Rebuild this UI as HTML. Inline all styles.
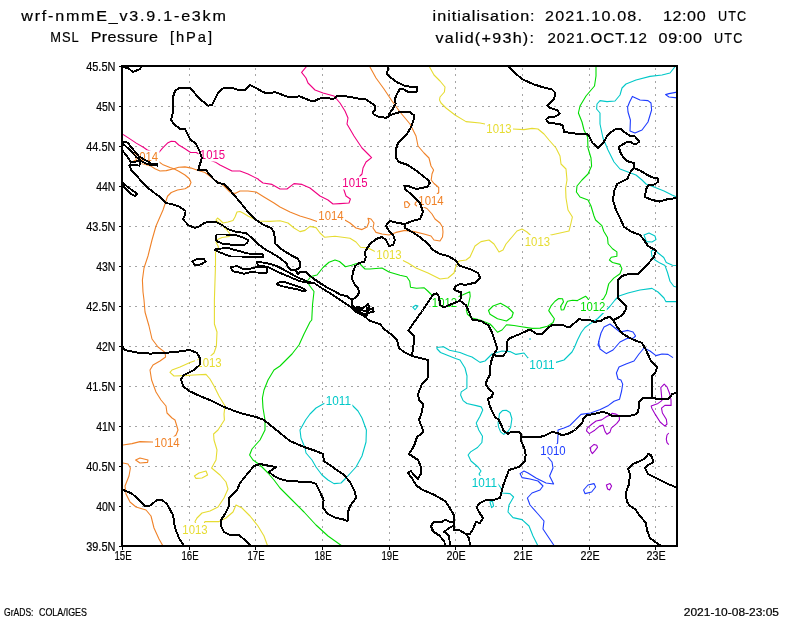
<!DOCTYPE html>
<html><head><meta charset="utf-8"><title>MSL Pressure</title>
<style>
html,body{margin:0;padding:0;background:#fff;}
svg{display:block;font-family:"Liberation Sans",sans-serif;}
</style></head>
<body>
<svg width="800" height="618" viewBox="0 0 800 618">
<defs><clipPath id="cp"><rect x="123" y="66" width="554" height="480"/></clipPath></defs>
<rect x="0" y="0" width="800" height="618" fill="#fff"/>
<g stroke="#a5a5a5" stroke-width="1" stroke-dasharray="2 4.54" shape-rendering="crispEdges"><line x1="189.5" y1="67.7" x2="189.5" y2="545"/><line x1="255.5" y1="67.7" x2="255.5" y2="545"/><line x1="322.5" y1="67.7" x2="322.5" y2="545"/><line x1="389.5" y1="67.7" x2="389.5" y2="545"/><line x1="455.5" y1="67.7" x2="455.5" y2="545"/><line x1="522.5" y1="67.7" x2="522.5" y2="545"/><line x1="589.5" y1="67.7" x2="589.5" y2="545"/><line x1="655.5" y1="67.7" x2="655.5" y2="545"/><line x1="128.5" y1="106.5" x2="676" y2="106.5"/><line x1="128.5" y1="146.5" x2="676" y2="146.5"/><line x1="128.5" y1="186.5" x2="676" y2="186.5"/><line x1="128.5" y1="226.5" x2="676" y2="226.5"/><line x1="128.5" y1="266.5" x2="676" y2="266.5"/><line x1="128.5" y1="306.5" x2="676" y2="306.5"/><line x1="128.5" y1="346.5" x2="676" y2="346.5"/><line x1="128.5" y1="386.5" x2="676" y2="386.5"/><line x1="128.5" y1="426.5" x2="676" y2="426.5"/><line x1="128.5" y1="466.5" x2="676" y2="466.5"/><line x1="128.5" y1="506.5" x2="676" y2="506.5"/></g>
<g fill="none" stroke-width="1.1" stroke-linejoin="round" clip-path="url(#cp)"><path d="M123 134.4 L128.75 138.1 L136.25 143.1 L143.75 147.5 L146.9 149.75 L153 152.5 L158.1 153.5 L162.5 148.1 L167.5 143.1 L171.25 141.25 L175 141.5 L178.75 145 L185 148.75 L190.6 152.5 L196.25 152.5 L209.4 160 L215 161.9 L220 165 L224 167 L232 171 L240 171 L248 174 L258 179 L259 180 L263 183 L272 184.4 L280 189 L287 189 L294 183.6 L302 184.4 L310 188 L320 196 L328 200 L333 204 L340 203.6 L349 203 L350.4 199 L346 196 L344 190 L342.4 187 L355 183 L360 176 L362 174 L363 168 L366 162 L371.6 157.6 L368 154 L362 148 L354 136 L347 124 L348 118 L345 111 L340 103 L334 96 L323 93 L315 90 L308 83 L306 78 L301.6 72.4 L307 66" stroke="#f00082"/>
<path d="M145.5 157 L158.1 161.25 L162.5 164.4 L170 167.5 L173.75 168.75 L178.75 167.25 L185 166.9 L191.25 168.1 L197.5 170.25 L205 172.5 L210 176.25 L216.25 181.25 L220 183.1 L224 186 L230 192 L235 193.6 L240 191 L248 191 L256 192 L264 197 L274 203 L280 207 L290 212 L300 216 L310 219 L317 221.6 L331 216 L344 219.6 L350 223 L356 228 L362 229.6 L367 227 L369 222 L368 218.4 L371 219 L374 223 L373 228 L376 232.4 L382 234 L389 235 L396 232.4 L405 230.4 L414 231.6 L424 234 L431 236 L434 240 L440 241 L442.5 237 L443 232 L442.5 227 L440 223 L435 219 L432 214 L427 208.5 L424 207.2 L431 200.5 L438.7 192.5 L438.7 187.5 L437 186 L434 183.5 L431.2 180 L432 174 L433.6 170 L431 166 L429 158 L424 153 L418 146 L416 136 L410 124 L400 112 L392 101 L384 89 L376 78 L369.4 66" stroke="#f08228"/>
<path d="M404.5 202 L407 201.5 L409.8 204.5 L408 207.2 L405 207.5 Z" stroke="#f08228"/>
<path d="M415.5 202.5 L415 204.5 L417 206.2 L420.5 206.2 L421.5 203 L419 200.5 Z" stroke="#f08228"/>
<path d="M140 163 L150 165.6 L155 168.75 L160 171 L166.25 170.6 L173.75 168.75 L178.75 171.25 L185 175 L189.4 178.75 L191 182.5 L189.4 186.25 L185 188.75 L177.5 190 L171.25 192.5 L167.5 196.25 L166 201 L163 210 L156 226 L152 240 L148 256 L144 268 L142.4 280 L143 292 L144 300 L145 312 L149 326 L152 339 L158 347 L165 352.4 L165.6 357 L160 361 L153 365 L150 370 L151.6 380 L156 392 L161 400 L166 406 L167 413 L172 418 L175 420 L178 430 L176 435 L167 443 L152 442 L140 441.6 L132 443.6 L123 445" stroke="#f08228"/>
<path d="M135.6 460 L140 458 L148 460 L147.6 462.4 L140 463 Z" stroke="#f08228"/>
<path d="M123 463 L128 464 L130.4 468 L129 476 L125 486 L126 494 L130 502 L136 507 L146 510 L151 516 L154 528 L159 539 L163 546" stroke="#f08228"/>
<path d="M429 66 L434 75 L440 81 L445 87 L444.4 92 L440 97 L439.5 100 L441 103 L446 108 L455 115 L466 121.6 L480 123 L485 124 L499 128.5 L513 129 L524 129.6 L532 128.4 L538 129 L544 134 L549 140 L556 148 L560 156 L561 164 L566 169 L567 180 L565.6 188 L566 198 L568 210 L572.4 217 L571 223 L569 231 L560 233 L551 235 L537.4 241.6 L527 232 L522 229 L517 231 L512 237 L506 244 L503 250 L499 252 L494 244 L489 240 L481 241.6 L475 246 L470 257 L466 260 L459 261 L456 266 L454 273 L448 278 L440 279 L428 273 L416 268 L408 263 L402 260 L389 254.4 L377 252 L374 251 L368 248 L360.5 247.25 L356 242 L350 238.25 L335 236.3 L324.5 237.2 L320 233 L316 227.6 L310 226.4 L305 230.4 L300 231.6 L294 228 L288 223 L280 220.8 L270 221.4 L258 221 L248 216 L243 213 L240 211.5 L237 212 L235 217 L233 220.5 L228 222 L223 223 L220 220 L217.5 218 L216 220 L218 222 L221 224 L226 229 L230.5 234.5 L229 236.5 L222 237.5 L217.5 239.5 L216 242 L218.5 247 L217.5 249 L215.5 252 L215.5 265 L214.4 300 L214.4 324 L217 332 L216.4 346 L214 353 L211 355.6 L209 362.4 L197 360 L190 362.4 L180 367 L172 370 L170 372.4 L174 376 L184 375.6 L194 375 L206 374.4 L210 379 L214 386 L219 396 L225 406 L224 414 L224.4 420 L218 430 L213.6 434 L214 440 L217 450 L216 460 L211.6 468 L220 475 L226 482 L228 489 L224 498 L218 507 L210 511 L202 513 L197 518 L195 521.5 L196 524 L204 524 L205 521.5 L219 521.6 L226 518 L233 512 L236 505 L242 508 L250 516 L258 526 L264 536 L267.6 546" stroke="#e6dc32"/>
<path d="M194.4 476 L199 473 L206 471 L207.6 475 L202 478 L196 478.4 Z" stroke="#e6dc32"/>
<path d="M596 66 L596 76 L594.5 86 L586 96 L580 106 L578.4 113 L582 122 L584 130 L587.6 137 L588 148 L591 158 L591.6 166 L588 174 L582 180 L577 186 L576.4 192 L580 197 L588 200 L591 206 L594 216 L595.6 220 L601.9 225.6 L603.75 231.25 L607.5 237.5 L608.1 243.75 L612.5 248.75 L616.9 251.9 L616.9 256.25 L611.25 257.25 L609.4 260 L612.5 262.5 L620 264.4 L621.9 268.75 L620 273.75 L613.75 278.1 L608.75 283.75 L608.1 286.25 L606.25 293.75 L603.5 298.75 L592.8 306.5 L587.5 298.1 L585.6 296.25 L581.25 298.5 L577.5 300.6 L572.5 300.25 L567.5 301.25 L565.6 305 L563.75 309.75 L561.25 310 L560.6 306.25 L563.5 301.9 L562.5 298.75 L558.75 298.5 L555 301.25 L551.25 305.6 L548.75 310.6 L551.25 314.4 L554.4 318.75 L553.1 322.5 L547.5 326.25 L540 328.1 L532 328.4 L520 326.5 L514 325.5 L506.5 324.75 L502 330 L497.5 332.25 L493 327 L490 324 L480 320 L472 318 L467.5 314.25 L466.3 309.75 L468.25 305.25 L470.2 296.25 L469.75 291.75 L463 294.75 L444.5 302.25 L430.75 294 L427.75 291 L424 287.7 L416.5 288.3 L410.5 287.25 L409.75 281.25 L406.75 276.75 L400 275.25 L389 272 L382 268 L370 269 L365 269 L361.25 265.25 L359 263 L356 263.75 L351.5 265.25 L345.5 266.75 L339.5 261.5 L335 260 L329 262.25 L323 267.5 L317 275 L311 276.5 L307.25 281 L309.5 285.5 L314 291.5 L312.5 305 L311.75 320 L310 322 L304 334 L299 345 L292 354 L284 362 L280 366 L274 370 L268 380 L264 390 L262.4 398 L263 408 L265 420 L265 430 L260 440 L252 449 L249.6 455 L253 460 L260 465 L268 473 L274 480 L280 488 L292 500 L304 512 L316 525 L328 536 L342 546" stroke="#00dc00"/>
<path d="M488.5 310.5 L493 306 L500.5 303.3 L508 307.5 L513.25 312.75 L511.75 317.25 L506.5 321 L497.5 318.75 L490 314.25 Z" stroke="#00dc00"/>
<path d="M678 301.6 L666 301.6 L665 300 L664 298 L658 292 L652 288.4 L640 290 L628 293 L619 296 L615 300 L610 306.25 L605 311.25 L597.5 318.75 L591.25 323.1 L585 327.5 L581.25 332.5 L577.5 340 L574.4 347.5 L572 352 L564 360 L556 362.4 L542 364.4 L528 358 L524 353 L516 354.4 L510 351.6 L502 351 L492 354 L485 361 L480 362.4 L472 357 L467.5 355.5 L460 352.5 L449.5 350.25 L443.5 346.8 L436.75 347.5 L437 348.75 L440.5 352.5 L448 355.5 L455.5 358.5 L460 360 L465 368 L467 376 L466.9 380 L466.9 388.1 L461.25 391.9 L460.6 395 L463.1 400.6 L466.9 403.5 L476.25 405.6 L481.25 406.9 L482.75 410 L480 416.25 L476.25 423.1 L478.75 430 L482.5 436.25 L481.9 442.5 L477.5 447.5 L470.6 451.9 L468.1 455 L468.6 456 L471 461 L478 467 L481 471 L479 474 L484.4 482.4 L498 484 L501 488 L502 493 L510 493.6 L513.6 497 L509 505 L508 512 L513 517.6 L522 519.6 L529 526 L533 536 L538 546" stroke="#00c8c8"/>
<path d="M338.4 400.6 L324 403.6 L316 408 L310 414 L305.6 420 L300 430 L301 438 L305 448 L306 453 L312 460 L316 467 L322 475 L328 480 L334 483.6 L341 483 L346 478 L356 467 L362 456 L366 442 L366.4 430 L362 418 L358 411 L352 405 Z" stroke="#00c8c8"/>
<path d="M675.6 66 L670 73 L662 75 L650 76.4 L636 80 L626 84 L622 88 L620 95 L615 101 L607 101.6 L600 100.6 L597 104 L596.6 109 L600 113 L600 124 L603 138 L608 150 L614 162 L620 169 L628 172 L636 175 L642 180 L646 184 L654 187 L664 191 L672 195 L678 197.6" stroke="#00c8c8"/>
<path d="M644 235 L649 233 L655 236 L656 239.6 L652 242 L646.4 241.6 Z" stroke="#00c8c8"/>
<path d="M678 265.6 L672.5 265.25 L666.25 262.5 L663.75 257.5 L657.5 252.5 L656 250.5 L653 250 L651.25 251.25 L651.9 256.25 L655 260 L660 263.1 L665 265.6 L667.5 272.5 L670 281.25 L673.75 286.25 L678 287.5" stroke="#00c8c8"/>
<path d="M412.75 307.2 L415.75 305.25 L418 306 L415 309.75 Z" stroke="#00c8c8"/>
<path d="M498.75 420 L499.4 413.75 L502.5 410.6 L506.25 410.25 L510 412.5 L511.9 418.75 L510.6 427.5 L508.1 431.25 L503.75 434.4 L500.6 431.9 L498.5 426.9 L498.1 422.5 Z" stroke="#00c8c8"/>
<path d="M490 502 L492.4 501 L493.6 506 L491.6 507.6 Z" stroke="#00c8c8"/>
<path d="M529 339 L531 339" stroke="#00c8c8"/>
<path d="M632.4 96.4 L640 100 L648 100.6 L651 103 L651.6 110 L648 122 L642 130 L635 133 L630 131 L630.4 120 L628 112 L627.6 107 L629.6 102 Z" stroke="#1e3cff"/>
<path d="M678 92 L669 93.6 L665.6 94.6 L669 97 L678 98" stroke="#1e3cff"/>
<path d="M610 324 L604 327 L601 333 L598.6 342 L600 349 L606.4 353.6 L613 350 L620 342 L627 338.4 L633 338.4 L635.6 336 L633 332 L628 330.4 L620 332 L615 328 Z" stroke="#1e3cff"/>
<path d="M673 357.6 L668 354.4 L662 354 L656 355.6 L650 351 L644 348 L639 354 L634 361 L626 364 L619 367 L616.4 373 L618 379 L620.9 380 L622.7 384.1 L621.6 391 L619.5 399.3 L614 401.3 L608.5 405.4 L600.3 409.6 L590.6 413 L581 414.4 L575.5 419.9 L570 425.4 L564 428 L558 430 L558 435 L557.6 443 L553 450.6 L547 456 L552 462 L553 468 L549.6 476 L553.6 484 L546 483 L536 478 L528 473 L524 471 L520 473.6 L522 477.6 L530 479 L538 481 L543 486 L540 490 L532 493 L527.4 498 L530 505 L538 514 L544 521 L543 529 L549 538 L554.4 546" stroke="#1e3cff"/>
<path d="M583.6 490 L588 485 L594 483.6 L595.6 487 L591.6 492 L585 493.6 Z" stroke="#1e3cff"/>
<path d="M599 341 L598 345 L600 348" stroke="#1e3cff"/>
<path d="M609.9 415.1 L605.8 417.1 L601.6 419.9 L596.1 421 L592 424 L587.2 428.1 L586.5 430.9 L589.3 433.6 L594.8 430.2 L599.6 426.1 L603 425.1 L605.1 431.6 L606.9 434.3 L609.9 432.3 L611.3 428.1 L616.8 423.3 L619.5 419.9 L619.2 416 L616.1 414.1 L612 413.4 Z" stroke="#a000c8"/>
<path d="M590.6 447.4 L594.1 444.4 L596.8 445.3 L597.5 447.4 L594.8 450.8 L592.4 453.6 L590.6 450.8 Z" stroke="#a000c8"/>
<path d="M606.4 485 L610 483.6 L611.6 486 L609.6 490 L607.6 489 Z" stroke="#a000c8"/>
<path d="M660.8 387.6 L664.2 384.1 L667 386.9 L669.7 393.8 L671 400 L671.1 405.4 L664.9 405.4 L661.5 408.2 L662.4 413 L666.3 419.2 L667 424 L664.9 426.1 L660.1 422 L655.3 414.4 L651.8 408.2 L651.2 406.1 L658 403.4 L661.9 400.6 L661.5 395.1 Z" stroke="#a000c8"/>
<path d="M668.8 433 L667 435 L666.3 439.1 L667 442.6 L668.8 444.6" stroke="#a000c8"/></g>
<g font-size="12.3" clip-path="url(#cp)"><rect x="131.5" y="150.5" width="28" height="13" fill="#fff" stroke="none"/>
<text x="145.5" y="161.4" fill="#f08228" text-anchor="middle" textLength="25.3" lengthAdjust="spacingAndGlyphs">1014</text>
<rect x="198.5" y="148.5" width="28" height="13" fill="#fff" stroke="none"/>
<text x="212.5" y="159.4" fill="#f00082" text-anchor="middle" textLength="25.3" lengthAdjust="spacingAndGlyphs">1015</text>
<rect x="341" y="176.5" width="28" height="13" fill="#fff" stroke="none"/>
<text x="355" y="187.4" fill="#f00082" text-anchor="middle" textLength="25.3" lengthAdjust="spacingAndGlyphs">1015</text>
<rect x="317" y="209.5" width="28" height="13" fill="#fff" stroke="none"/>
<text x="331" y="220.4" fill="#f08228" text-anchor="middle" textLength="25.3" lengthAdjust="spacingAndGlyphs">1014</text>
<rect x="417" y="194" width="28" height="13" fill="#fff" stroke="none"/>
<text x="431" y="204.9" fill="#f08228" text-anchor="middle" textLength="25.3" lengthAdjust="spacingAndGlyphs">1014</text>
<rect x="485" y="122" width="28" height="13" fill="#fff" stroke="none"/>
<text x="499" y="132.9" fill="#e6dc32" text-anchor="middle" textLength="25.3" lengthAdjust="spacingAndGlyphs">1013</text>
<rect x="523.4" y="235.1" width="28" height="13" fill="#fff" stroke="none"/>
<text x="537.4" y="246" fill="#e6dc32" text-anchor="middle" textLength="25.3" lengthAdjust="spacingAndGlyphs">1013</text>
<rect x="375" y="247.9" width="28" height="13" fill="#fff" stroke="none"/>
<text x="389" y="258.8" fill="#e6dc32" text-anchor="middle" textLength="25.3" lengthAdjust="spacingAndGlyphs">1013</text>
<rect x="430.5" y="295.75" width="28" height="13" fill="#fff" stroke="none"/>
<text x="444.5" y="306.65" fill="#00dc00" text-anchor="middle" textLength="25.3" lengthAdjust="spacingAndGlyphs">1012</text>
<rect x="578.8" y="300" width="28" height="13" fill="#fff" stroke="none"/>
<text x="592.8" y="310.9" fill="#00dc00" text-anchor="middle" textLength="25.3" lengthAdjust="spacingAndGlyphs">1012</text>
<rect x="195" y="355.9" width="28" height="13" fill="#fff" stroke="none"/>
<text x="209" y="366.8" fill="#e6dc32" text-anchor="middle" textLength="25.3" lengthAdjust="spacingAndGlyphs">1013</text>
<rect x="324.4" y="394.1" width="28" height="13" fill="#fff" stroke="none"/>
<text x="338.4" y="405" fill="#00c8c8" text-anchor="middle" textLength="25.3" lengthAdjust="spacingAndGlyphs">1011</text>
<rect x="528" y="357.9" width="28" height="13" fill="#fff" stroke="none"/>
<text x="542" y="368.8" fill="#00c8c8" text-anchor="middle" textLength="25.3" lengthAdjust="spacingAndGlyphs">1011</text>
<rect x="153" y="436.5" width="28" height="13" fill="#fff" stroke="none"/>
<text x="167" y="447.4" fill="#f08228" text-anchor="middle" textLength="25.3" lengthAdjust="spacingAndGlyphs">1014</text>
<rect x="181" y="523" width="28" height="13" fill="#fff" stroke="none"/>
<text x="195" y="533.9" fill="#e6dc32" text-anchor="middle" textLength="25.3" lengthAdjust="spacingAndGlyphs">1013</text>
<rect x="470.4" y="475.9" width="28" height="13" fill="#fff" stroke="none"/>
<text x="484.4" y="486.8" fill="#00c8c8" text-anchor="middle" textLength="25.3" lengthAdjust="spacingAndGlyphs">1011</text>
<rect x="539" y="444.1" width="28" height="13" fill="#fff" stroke="none"/>
<text x="553" y="455" fill="#1e3cff" text-anchor="middle" textLength="25.3" lengthAdjust="spacingAndGlyphs">1010</text></g>
<g fill="none" stroke="#000" stroke-width="1.9" stroke-linejoin="round" stroke-linecap="round" shape-rendering="crispEdges" clip-path="url(#cp)"><path d="M123 151.25 L127.5 156.9 L131.25 162.5 L135 161.9 L138.75 160.6 L140.6 163.1 L139.4 165.6 L133.75 165 L130.6 164.4 L129.4 165.6 L131.25 170 L136.25 175 L141.25 181.25 L147.5 187.5 L153.75 192.5 L160 197 L166 203 L173 204.4 L180 207 L185.6 211 L185 215 L183 219 L188 225 L195 228 L200 226 L204 223 L210 221.6 L216 222 L222 225 L228 229 L236 232 L246 233 L252 238 L258 244 L266 250 L273.5 254 L279.5 257.75 L287 263.75 L287.75 266.75 L290.75 269.75 L296 270"/>
<path d="M123 142 L127.5 142.5 L132.5 148.75 L138.75 156.25 L145 160 L151.25 163.5 L157.5 164.4 L157.5 165.6 L150 165 L142.5 161.9 L136.25 156.9 L130 150 L125 145.6 L123 144 Z"/>
<path d="M123 183 L127.5 186.9 L133.75 191.25 L136.9 193.75 L135 196.25 L130 193.1 L126.9 190 L123 185.6 Z"/>
<path d="M217 234.5 L225 234.5 L235 235 L243 237.5 L248.5 240.5 L247 243 L244 245 L239 245.5 L230 244.5 L222 243.5 L217.5 241.5 L215.5 239.5 L216 236 Z"/>
<path d="M214.5 249.5 L218.5 249 L227 247.5 L235 250 L248 253.5 L255 254 L263.5 254.5 L263 257.5 L254 257 L240 256.5 L231 256.5 L224 254 L219 252 Z"/>
<path d="M192.4 261.6 L197 259 L204 259 L205.6 261.6 L201 264.4 L195 265 Z"/>
<path d="M230.6 266.9 L237.5 266.25 L242.5 268.75 L250 268.75 L257.5 266.9 L266.25 267.5 L267.5 270.6 L266.25 273.1 L257.5 272.5 L250 272.25 L243.75 273.75 L238.75 272.5 L232.5 271.25 Z"/>
<path d="M314 283 L308 281.75 L299 278 L291.5 274 L284 269.75 L276.5 266 L269 263.75 L260 262 L257 262 L258 265 L260 266 L267.5 266.75 L275 270.5 L282.5 274 L290 277 L299 281 L309.5 283 L314 283"/>
<path d="M276.9 283.5 L280 281.9 L285 282.25 L295 285.6 L302.5 288.1 L305.6 290.6 L304.4 291.5 L297.5 289.3 L290 287.9 L282.5 286.3 L278 285 Z"/>
<path d="M314 283 L323 289 L332 294.5 L341 300.5 L350 306.5 L356 312 L364 316 L370 321 L380 324 L384 329 L392 335 L397 340 L399 348 L404 352 L412 356"/>
<path d="M453.8 522.7 L448.4 521.3 L445.6 519.5 L442 522 L433.5 522 L430.6 526.2 L432.8 531.2 L439.9 536.2 L444.2 541.2 L445.3 546"/>
<path d="M453.8 525.5 L448.4 528.4 L444.2 532 L449.1 535.5 L449.9 546"/>
<path d="M466.2 534.1 L469.1 538.3 L470.1 546"/>
<path d="M440 521.6 L434 522 L431 526 L434 532 L440 535.6"/></g>
<g fill="none" stroke="#000" stroke-width="2" stroke-linejoin="round" stroke-linecap="round" shape-rendering="crispEdges" clip-path="url(#cp)"><path d="M122 67 L128 68 L133 72 L140 69 L141.6 66"/>
<path d="M389 114 L389 116.25 L386.25 117.75 L378.75 116.9 L373.75 114.4 L372.5 111.9 L374.75 110 L375.25 105.6 L371.25 103 L365 99 L360 99 L354 97.6 L344 96 L337 96 L333 99.4 L328 98 L320 98.4 L313 101.6 L306 99 L300 96.4 L288 97 L280 94 L275 92 L268 93.6 L263 92 L256 88 L250 85 L245 90 L240 90.4 L232 88 L224 87.6 L218 93 L212 105 L208 105.6 L200 99 L190 88 L180 87.6 L175 91 L173 97 L173 112 L171 120 L174 124 L180 129 L185 129 L190 139 L196 144 L199.4 151 L201.9 158 L200 164 L198.1 170 L206.25 170.25 L209.4 174.4 L213.75 179.4 L218 183 L224 184 L229 189 L234 195 L240 202 L248 212 L256 220 L264 225 L271 228 L274 232 L275 240 L275.5 244 L282.5 250 L291.5 255.5 L297.5 258.5 L300 262 L299.75 267.5 L296 270 L297.5 274 L301 271.7 L306.5 272.3 L312.5 278 L320 283 L327.5 287.75 L335 291.5 L341 295 L347 296 L351.5 299.75 L352 305 L353.75 309.5 L356 312"/>
<path d="M388.75 66 L386.9 73.75 L391.25 78 L397.5 82.5 L404.4 85.6 L411.25 86.9 L416.9 86.9 L417.5 89.4 L416.25 92.25 L408 91.9 L403 89 L400 89 L396.9 93.75 L395 98.75 L395.6 103.75 L392.5 109.4 L389 114 L390.6 115 L396.25 113 L401.25 111.9 L410 112.25 L413.75 115 L414 118.75 L411.9 125 L408.75 131.25 L406.25 135 L398 143 L396.4 148 L395.6 157 L399 162 L408 165 L418 172 L428 180 L430 183 L427 187 L416 189 L408 186 L404.4 185.6 L405 189 L412 195 L420 203 L423 212 L420 219 L412 221 L405 224"/>
<path d="M405 224 L398 223 L390 221 L386 225.6 L389 231 L393 235 L395 240 L393 245 L389 246 L386 240 L382 237 L376 239 L370 244 L366 250 L365 252.5 L365.75 257 L364.25 261.8 L359 263 L355.25 266 L353 272 L351.8 278.75 L354.5 284 L358.25 288.5 L359 293 L356 297.5 L351.5 299.75"/>
<path d="M405 224 L405 228 L412 232 L420 237 L428 244 L433 250 L440 254 L448 256 L455 260 L460 266 L470 269 L472 270 L478 273 L480.25 278.25 L475 282.75 L466 284.7 L459.25 284.25 L455.5 286.5 L454 289.2 L457 291 L461.5 292.5 L461.2 297 L460 300.75"/>
<path d="M460 300.75 L466 305.25 L469 312 L472 319.5 L481 321 L488.5 325.5 L492.25 333 L495.25 342 L497.5 348.75 L493.75 354 L496 356.25 L502.75 356.25 L506.5 351.75 L506.8 342 L509.5 338.25 L520 334 L530 329.4 L536.25 333.75 L541.9 333.75 L547.5 328.1 L552.5 325 L562.5 324.75 L566.9 326.9 L570 326.9 L578.75 319.4 L590 320 L594.4 321.9 L601.25 320.6 L605 318.1 L610 316.9 L613.1 320"/>
<path d="M460 300.75 L452.5 303.75 L443.5 307.5 L439.75 304.5 L439.3 297 L436.75 293.25 L433 294.75 L428.5 301.5 L422.5 310.5 L415 321 L408.25 330.75 L414.25 336 L413.5 345 L412 356"/>
<path d="M493.75 354 L491.6 360 L490 368 L490 375 L487.5 379 L485.6 383.75 L488.1 388.1 L493.1 392.5 L491.9 396.9 L488.1 398.75 L489 403.75 L491.25 409.4 L495 416.9 L498.75 420 L501.25 425 L503.75 431.25 L508.1 433.75 L511.25 431.5 L518.75 431.5 L521.25 434.4 L521.25 436.9"/>
<path d="M521.25 436.9 L532 436.9 L540 436.9 L545 435.5 L552 432 L558 433 L562 435.6 L570 433 L575.5 429.5 L582.4 422.6 L583.1 418.5 L586.5 415.5 L594.8 413.7 L603 411.9 L607.1 413 L611.3 415.5 L616.8 416 L629.1 416 L634.6 414.7 L638.1 412.3 L638.8 407.5 L639.5 401.3 L642.9 397.9 L652.5 397.6 L658 399.3 L668.3 399.5 L671.8 394.4 L675.9 392.7 L678 392.5"/>
<path d="M613.1 320 L617.5 327.5 L622.5 333.75 L630 338.1 L634 340 L642 343 L646 350 L651 361 L657 367 L655.6 372 L652 376 L652 388 L652.5 397.6"/>
<path d="M658.5 181.25 L655 184.4 L648 185.6 L645.6 190 L645.6 192 L645 197 L652 200 L660 201.6 L668 199 L678 198"/>
<path d="M633.75 168 L630 172.5 L627.5 178.75 L617.5 183.75 L614.4 190 L613 200 L616 210 L620 218 L624 227 L632 232 L640 235 L644 240 L648 246 L656 250.4 L654 257 L646 266 L638 274 L630 273.6 L622 276 L618 280 L618 292 L618.1 298.1 L622.5 302.5 L626.25 306.25 L625.6 310 L622.5 315 L617.5 318.1 L613.1 320"/>
<path d="M508.4 66 L516 74 L523 79.6 L534 84.4 L544 87.6 L552 89.6 L555.6 93 L554 99 L547 105.6 L550 108 L557 110 L559.6 113.6 L556 116.4 L549 117 L546 119.4 L549 123 L560 124 L563 126 L564 132 L576 133.6 L588 134.4 L590 138 L592.5 143 L598 147.75 L603.75 142 L608 134.4 L615 129.4 L620 128.5 L625 132.5 L629.4 135.6 L635 136.5 L639.4 141.5 L636.9 143.5 L633 143.5 L630 141.5 L626.9 141.9 L619 146.9 L620 151.9 L623.75 158 L627.5 161.25 L633.75 163 L633.75 168 L640 170.6 L647.5 175 L652.5 177.5 L657.5 178 L658.5 181.25"/>
<path d="M521.25 436.9 L521.25 441.25 L525 450 L525.6 455 L525 461 L519 467 L509 470 L506 478 L503 486 L500 498 L492 500.4 L486 500 L480 503 L476.6 507 L479 512 L483 518 L480 523 L476 522 L473 529 L470 534 L466.2 534.1 L459.8 530.5 L453.8 529.8"/>
<path d="M412 356 L420 358 L428 360 L428.4 368 L427.6 378 L422 384 L418 394 L419 400 L423 404 L422 412 L419 420 L423 430 L422.4 433 L417 437 L414 446 L409 454 L418 460 L421 467 L421.1 473.5 L417.8 479.2 L414.2 475 L410.7 471.1 L407.8 472.5 L412.1 478.5 L416.4 485.6 L422.8 489.9 L434.2 494.9 L445.6 501.3 L449.9 508.4 L453.8 514.8 L454.1 522.7 L453.8 529.8"/>
<path d="M351.5 300 L352 305 L355 308 L358 307 L362 308.4 L366 306 L368 304 L369 307 L369 310 L373 308 L373.6 312 L370 312.5 L368 313 L366 316 L362 314 L360 312 L357 311 L356 309 L360 309.5 L364 311 L367 310.5 L367 307.5"/>
<path d="M359 308 L361 313 L365 314.5 L368.5 311"/>
<path d="M122 346 L125 350 L136 352.4 L150 353.6 L164 353 L178 351.6 L190 350 L197 353 L200.4 359 L199.6 365 L194 370 L184 375 L181 379 L183 386 L189 391 L200 396 L212 401 L224 407 L240 413 L256 417 L264 420 L280 433 L290 441 L304 447 L316 451 L323 454 L324 461 L334 468 L344 475 L350 482 L355 492 L356 498 L350 506 L348 512 L347.6 521 L342 519 L336 518 L328 514 L323 508 L323.6 500 L320 492 L316 484 L310 481.6 L300 481.6 L288 481 L280 479 L274 476 L269 472 L276 467 L268 465.6 L260 464 L254 466 L248 473 L240 483 L237 490 L229 498 L229 506 L225 514 L221 520 L221 526 L224 532 L230 535 L239 535 L246 541 L251 546"/>
<path d="M122 489.5 L132 493.6 L140 501 L145 506 L150 505.6 L157 500 L162 500 L167 504 L173 515 L175 528 L179 538 L184 546"/>
<path d="M678 488 L668 484 L656 478 L648 474 L645 468 L648 465 L653.6 462 L651 455 L648 454 L645.6 458 L640 461 L633 464 L628 469 L630 474 L629 484 L625.6 494 L627 502 L630 506 L635 509 L640 516 L646 523 L647 530 L650 538 L658 544 L661 546"/></g>
<rect x="122" y="66" width="555" height="480" fill="none" stroke="#000" stroke-width="2" shape-rendering="crispEdges"/>
<g stroke="#000" stroke-width="1" shape-rendering="crispEdges"><line x1="122.5" y1="547" x2="122.5" y2="550"/><line x1="189.5" y1="547" x2="189.5" y2="550"/><line x1="255.5" y1="547" x2="255.5" y2="550"/><line x1="322.5" y1="547" x2="322.5" y2="550"/><line x1="389.5" y1="547" x2="389.5" y2="550"/><line x1="455.5" y1="547" x2="455.5" y2="550"/><line x1="522.5" y1="547" x2="522.5" y2="550"/><line x1="589.5" y1="547" x2="589.5" y2="550"/><line x1="655.5" y1="547" x2="655.5" y2="550"/><line x1="119" y1="66.5" x2="121" y2="66.5"/><line x1="119" y1="106.5" x2="121" y2="106.5"/><line x1="119" y1="146.5" x2="121" y2="146.5"/><line x1="119" y1="186.5" x2="121" y2="186.5"/><line x1="119" y1="226.5" x2="121" y2="226.5"/><line x1="119" y1="266.5" x2="121" y2="266.5"/><line x1="119" y1="306.5" x2="121" y2="306.5"/><line x1="119" y1="346.5" x2="121" y2="346.5"/><line x1="119" y1="386.5" x2="121" y2="386.5"/><line x1="119" y1="426.5" x2="121" y2="426.5"/><line x1="119" y1="466.5" x2="121" y2="466.5"/><line x1="119" y1="506.5" x2="121" y2="506.5"/><line x1="119" y1="546.5" x2="121" y2="546.5"/></g>
<g font-size="12.3" fill="#000" stroke="#000" stroke-width="0.2"><text x="115.4" y="71" text-anchor="end" textLength="29.2" lengthAdjust="spacingAndGlyphs">45.5N</text><text x="115.4" y="111" text-anchor="end" textLength="19.2" lengthAdjust="spacingAndGlyphs">45N</text><text x="115.4" y="151" text-anchor="end" textLength="29.2" lengthAdjust="spacingAndGlyphs">44.5N</text><text x="115.4" y="191" text-anchor="end" textLength="19.2" lengthAdjust="spacingAndGlyphs">44N</text><text x="115.4" y="231" text-anchor="end" textLength="29.2" lengthAdjust="spacingAndGlyphs">43.5N</text><text x="115.4" y="271" text-anchor="end" textLength="19.2" lengthAdjust="spacingAndGlyphs">43N</text><text x="115.4" y="311" text-anchor="end" textLength="29.2" lengthAdjust="spacingAndGlyphs">42.5N</text><text x="115.4" y="351" text-anchor="end" textLength="19.2" lengthAdjust="spacingAndGlyphs">42N</text><text x="115.4" y="391" text-anchor="end" textLength="29.2" lengthAdjust="spacingAndGlyphs">41.5N</text><text x="115.4" y="431" text-anchor="end" textLength="19.2" lengthAdjust="spacingAndGlyphs">41N</text><text x="115.4" y="471" text-anchor="end" textLength="29.2" lengthAdjust="spacingAndGlyphs">40.5N</text><text x="115.4" y="511" text-anchor="end" textLength="19.2" lengthAdjust="spacingAndGlyphs">40N</text><text x="115.4" y="551" text-anchor="end" textLength="29.2" lengthAdjust="spacingAndGlyphs">39.5N</text><text x="123" y="560" text-anchor="middle" textLength="17.2" lengthAdjust="spacingAndGlyphs">15E</text><text x="190" y="560" text-anchor="middle" textLength="17.2" lengthAdjust="spacingAndGlyphs">16E</text><text x="256" y="560" text-anchor="middle" textLength="17.2" lengthAdjust="spacingAndGlyphs">17E</text><text x="323" y="560" text-anchor="middle" textLength="17.2" lengthAdjust="spacingAndGlyphs">18E</text><text x="390" y="560" text-anchor="middle" textLength="17.2" lengthAdjust="spacingAndGlyphs">19E</text><text x="456" y="560" text-anchor="middle" textLength="19.2" lengthAdjust="spacingAndGlyphs">20E</text><text x="523" y="560" text-anchor="middle" textLength="19.2" lengthAdjust="spacingAndGlyphs">21E</text><text x="590" y="560" text-anchor="middle" textLength="19.2" lengthAdjust="spacingAndGlyphs">22E</text><text x="656" y="560" text-anchor="middle" textLength="19.2" lengthAdjust="spacingAndGlyphs">23E</text></g>
<g fill="#000" stroke="#000" stroke-width="0.2"><text transform="translate(21.3 20.7) scale(1.15 1)" font-size="14" textLength="177.826" lengthAdjust="spacing">wrf-nmmE_v3.9.1-e3km</text><text transform="translate(50.2 42.4) scale(0.92 1)" font-size="14" textLength="31.087" lengthAdjust="spacing">MSL</text><text transform="translate(90.7 42.4) scale(1.15 1)" font-size="14" textLength="58.5217" lengthAdjust="spacing">Pressure</text><text transform="translate(170 42.4) scale(1.05 1)" font-size="14" textLength="40" lengthAdjust="spacing">[hPa]</text><text transform="translate(432.6 20.7) scale(1.15 1)" font-size="14" textLength="88.6957" lengthAdjust="spacing">initialisation:</text><text transform="translate(545 20.7) scale(1.15 1)" font-size="14" textLength="84.3478" lengthAdjust="spacing">2021.10.08.</text><text transform="translate(663 20.7) scale(1.15 1)" font-size="14" textLength="37.0435" lengthAdjust="spacing">12:00</text><text transform="translate(718 20.7) scale(0.9 1)" font-size="14" textLength="31.1111" lengthAdjust="spacing">UTC</text><text transform="translate(435.4 42.5) scale(1.15 1)" font-size="14" textLength="85.7391" lengthAdjust="spacing">valid(+93h):</text><text transform="translate(547.4 42.5) scale(1.08 1)" font-size="14" textLength="92.2222" lengthAdjust="spacing">2021.OCT.12</text><text transform="translate(658.4 42.5) scale(1.15 1)" font-size="14" textLength="37.913" lengthAdjust="spacing">09:00</text><text transform="translate(714 42.5) scale(0.9 1)" font-size="14" textLength="31.5556" lengthAdjust="spacing">UTC</text></g>
<g fill="#000" stroke="#000" stroke-width="0.2"><text transform="translate(4 615.5) scale(1 1)" font-size="11" textLength="29.5" lengthAdjust="spacingAndGlyphs">GrADS:</text><text transform="translate(39 615.5) scale(1 1)" font-size="11" textLength="48" lengthAdjust="spacingAndGlyphs">COLA/IGES</text><text transform="translate(683.8 615.5) scale(1 1)" font-size="11" textLength="95.2" lengthAdjust="spacingAndGlyphs">2021-10-08-23:05</text></g>
</svg>
</body></html>
